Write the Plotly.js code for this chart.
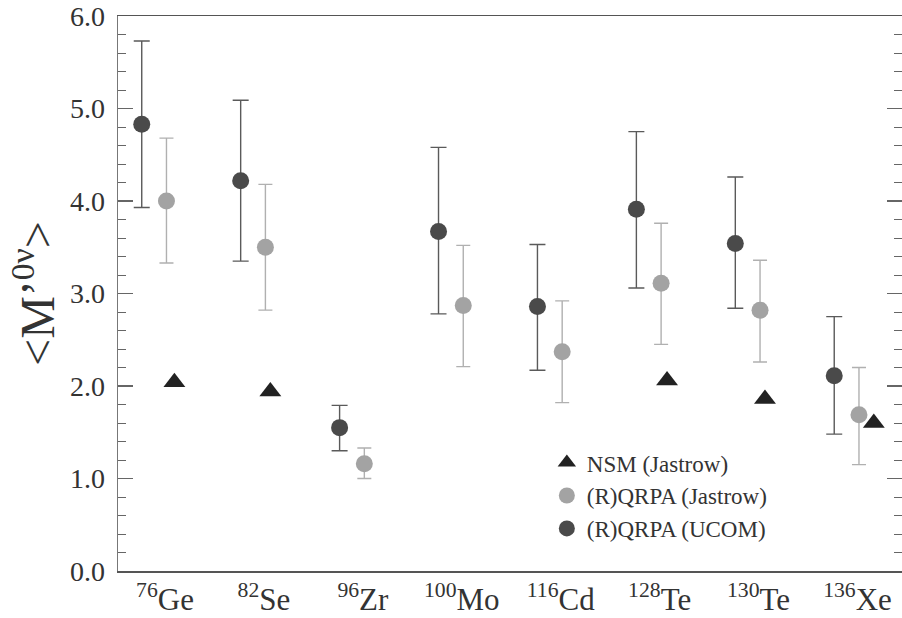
<!DOCTYPE html>
<html>
<head>
<meta charset="utf-8">
<script src="https://cdn.plot.ly/plotly-3.0.1.min.js"></script>
<style>html,body{margin:0;padding:0;background:#fff;}#chart{width:902px;height:618px;}</style>
</head>
<body>
<div id="chart"></div>
<script>
// ---- data ----
const massNumbers = ['76','82','96','100','116','128','130','136'];
const elements    = ['Ge','Se','Zr','Mo','Cd','Te','Te','Xe'];

const ucom      = [4.83, 4.22, 1.55, 3.67, 2.86, 3.91, 3.54, 2.11];
const ucomHigh  = [5.73, 5.09, 1.79, 4.58, 3.53, 4.75, 4.26, 2.75];
const ucomLow   = [3.93, 3.35, 1.30, 2.78, 2.17, 3.06, 2.84, 1.48];

const jastrow     = [4.00, 3.50, 1.16, 2.87, 2.37, 3.11, 2.82, 1.69];
const jastrowHigh = [4.68, 4.18, 1.33, 3.52, 2.92, 3.76, 3.36, 2.20];
const jastrowLow  = [3.33, 2.82, 1.00, 2.21, 1.82, 2.45, 2.26, 1.15];

const nsm = [2.04, 1.94, null, null, null, 2.06, 1.86, 1.60];

const yTickVals = [0, 1, 2, 3, 4, 5, 6];

// ---- layout / style constants ----
const jasShift = 0.25;
const nsmShift = [0.33, 0.30, 0.30, 0.30, 0.30, 0.31, 0.30, 0.40];
const labelShift = 0.235;
const FONT = 'Liberation Serif, Times New Roman, serif';

const idx = massNumbers.map((_, i) => i);

const traceUcom = {
  type: 'scatter', mode: 'markers', name: '(R)QRPA (UCOM)',
  x: idx, y: ucom,
  marker: {symbol: 'circle', size: 17, color: '#4a4a4a'},
  error_y: {type: 'data', symmetric: false,
    array: ucom.map((v, i) => ucomHigh[i] - v),
    arrayminus: ucom.map((v, i) => v - ucomLow[i]),
    color: '#5a5a5a', thickness: 1.4, width: 8},
  cliponaxis: false
};
const traceJas = {
  type: 'scatter', mode: 'markers', name: '(R)QRPA (Jastrow)',
  x: idx.map(i => i + jasShift), y: jastrow,
  marker: {symbol: 'circle', size: 17, color: '#a3a3a3'},
  error_y: {type: 'data', symmetric: false,
    array: jastrow.map((v, i) => jastrowHigh[i] - v),
    arrayminus: jastrow.map((v, i) => v - jastrowLow[i]),
    color: '#b0b0b0', thickness: 1.4, width: 7},
  cliponaxis: false
};
const traceNsm = {
  type: 'scatter', mode: 'markers', name: 'NSM (Jastrow)',
  x: idx.map(i => i + nsmShift[i]), y: nsm,
  marker: {symbol: 'triangle-up', size: 19, color: '#222222'},
  cliponaxis: false
};

const layout = {
  width: 902, height: 618,
  margin: {l: 118, r: 0, t: 16, b: 47},
  paper_bgcolor: '#ffffff', plot_bgcolor: '#ffffff',
  font: {family: FONT, color: '#333333'},
  showlegend: true,
  legend: {
    x: 0.547, y: 0.234, xanchor: 'left', yanchor: 'top',
    traceorder: 'reversed',
    bgcolor: 'rgba(0,0,0,0)',
    font: {family: FONT, size: 23, color: '#333333'},
    itemsizing: 'trace',
    tracegroupgap: 0
  },
  xaxis: {
    range: [-0.24, 7.685],
    showgrid: false, zeroline: false,
    showline: true, linecolor: '#555555', linewidth: 1.5,
    mirror: true,
    ticks: '',
    tickvals: idx.map(i => i + labelShift),
    ticktext: idx.map(i => '<sup>' + massNumbers[i] + '</sup>' + elements[i]),
    tickfont: {family: FONT, size: 31, color: '#333333'},
    ticklabelstandoff: 0
  },
  yaxis: {
    range: [0, 6],
    showgrid: false, zeroline: false,
    showline: true, linecolor: '#777777', linewidth: 1.5,
    mirror: 'ticks',
    ticks: 'inside', ticklen: 15, tickwidth: 1.2, tickcolor: '#666666',
    tickvals: yTickVals,
    tickformat: '.1f',
    minor: {dtick: 0.2, ticks: 'inside', ticklen: 8, tickwidth: 1, tickcolor: '#666666', showgrid: false},
    tickfont: {family: FONT, size: 28, color: '#333333'},
    ticklabelstandoff: 6,
    title: {text: '&lt;M’<sup>0ν</sup>&gt;', font: {family: FONT, size: 48, color: '#333333'}, standoff: 0}
  }
};

Plotly.newPlot('chart', [traceUcom, traceJas, traceNsm], layout, {displayModeBar: false, staticPlot: true});
</script>
</body>
</html>
